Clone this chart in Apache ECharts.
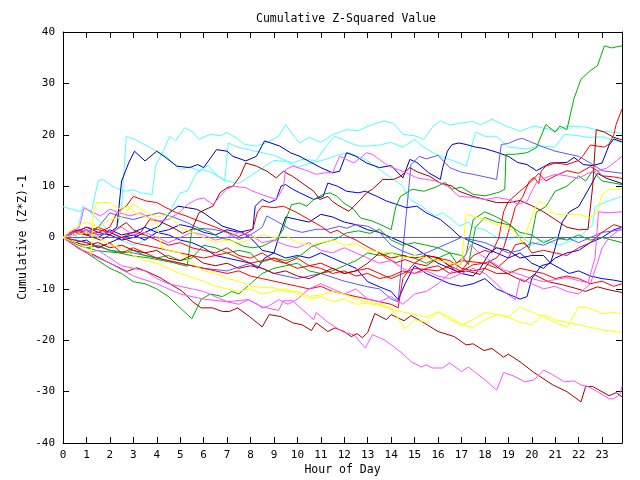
<!DOCTYPE html>
<html><head><meta charset="utf-8">
<script src="https://cdn.jsdelivr.net/npm/echarts@6/dist/echarts.min.js"></script>
<style>html,body{margin:0;padding:0;background:#fff}#c{width:640px;height:480px}</style>
</head><body><div id="c"></div>
<script>
// x tick labels (hour of day)
const hourTicks = [0,1,2,3,4,5,6,7,8,9,10,11,12,13,14,15,16,17,18,19,20,21,22,23];
const yTicks = [-40,-30,-20,-10,0,10,20,30,40];

// each series: [hour, cumulative value]
const cyanTop = [[0,6],[0.7,5.1],[1.0,5.7],[1.2,4.8],[1.5,11],[1.7,11.3],[2.1,10],[2.6,9],[3.0,9.3],[3.3,8.7],[3.8,8.4],[3.95,14],[4.3,17],[4.55,19.7],[4.8,18.8],[5.2,21.4],[5.55,20.5],[5.8,19.1],[6.3,20.1],[6.7,19.8],[7.0,20.4],[7.4,19.4],[7.75,18.1],[8.25,17.8],[8.7,18.5],[9.2,19.7],[9.5,22],[9.8,20],[10.1,18.4],[10.5,19.5],[11,18.5],[11.5,20],[12.1,21],[12.6,20.8],[13.2,22],[13.7,22.7],[14.1,22.2],[14.5,20.1],[15.0,19.8],[15.4,19.1],[15.8,21.7],[16.1,22.7],[16.5,21.9],[16.9,22.2],[17.5,22.6],[17.8,21.9],[18.3,23],[18.9,21.7],[19.5,20.7],[20.1,21.7],[21,20.8],[21.5,21.7],[22.3,21.5],[23,20.7],[23.85,20.3]];
const cyanA = [[0,0],[0.5,-0.5],[1,0.5],[1.5,0],[2,1],[2.3,2],[2.5,6],[2.7,19.7],[3.1,19],[3.6,17.8],[4.0,16.8],[4.4,15.8],[5,13.2],[5.4,13.8],[5.8,13],[6.2,14],[6.6,12],[6.9,11],[7.05,18.4],[7.5,17.5],[8,17],[8.5,16.5],[9,16],[9.5,15],[9.8,14.5],[10.2,15.2],[10.8,15],[11.2,17.6],[11.6,19.7],[12.2,18.5],[12.6,17.8],[13,17.8],[13.5,18],[14,18.5],[14.5,17.6],[15,19.1],[15.4,17.5],[15.8,16.5],[16.3,15.5],[16.9,14.5],[17.2,13.9],[17.6,20.5],[18,19.7],[18.5,19.7],[19,17.6],[19.8,17.2],[20.3,17.8],[21,17.6],[21.4,20.1],[22,19.8],[22.4,19.5],[23,19.6],[23.85,18.5]];
const cyanB = [[0,0],[0.5,-1],[0.85,6.1],[1.2,4.8],[1.6,3],[2,1],[2.5,-0.5],[3,-1.5],[3.5,-0.5],[3.9,1],[4.3,3],[5,8.7],[5.3,9],[5.7,12.6],[6,13.2],[6.4,12.5],[6.7,11.7],[7,11],[7.5,10.5],[8,12],[8.5,13.5],[9,15],[9.5,14.8],[10,13.7],[10.6,14.5],[11.2,15.2],[11.7,16],[12.2,16.5],[12.9,15.2],[13.7,12.6],[14.1,11.3],[14.5,10],[14.8,7.4],[15.3,6.1],[15.6,5],[15.9,4.2],[16.2,4.8],[16.6,3.5],[16.9,2.2],[17.3,3],[17.5,2],[18,1.5],[18.5,0],[19,-0.5],[19.5,0.5],[20,-1.5],[20.5,-0.5],[21.2,-1.5],[22,0],[22.6,2.5],[22.7,6],[23.2,7],[23.85,8]];
const navyTop = [[0,0],[0.5,1],[1,1.5],[1.5,0.5],[2,1],[2.3,2],[2.5,11],[2.8,14.5],[3.05,16.8],[3.5,14.9],[4,16.8],[4.4,15.5],[4.85,13.9],[5.4,13.6],[5.75,14.2],[6,13.6],[6.55,17.1],[7.0,16.8],[7.25,15.8],[7.8,14.9],[8.25,15.8],[8.6,18.8],[9.25,17.8],[9.7,16.5],[10.1,15.8],[10.5,14.8],[11,13.6],[11.5,12.6],[11.8,12.9],[12.1,16.5],[12.5,15.8],[12.95,14.5],[13.5,13.6],[14,14],[14.5,11.6],[14.8,15.2],[15.1,14.6],[15.6,12.6],[16.1,11.3],[16.2,13.6],[16.4,16.8],[16.6,18.1],[16.9,18.4],[17.2,18.1],[17.6,17.6],[18,17.3],[18.5,16.6],[19,15.8],[19.4,14.6],[19.8,14.2],[20.2,13],[20.8,14.5],[21.5,14.6],[21.8,15.6],[22.2,14.2],[22.6,14],[23,14.5],[23.3,18],[23.5,19.2],[23.85,18.6]];
const blueJump = [[0,0],[1,-1],[2,-2.5],[3,-3],[4,-4],[5,-5],[6,-6],[7,-6.5],[8,-5],[9,-7],[10,-8],[11,-7],[12,-8.5],[13,-9.6],[13.5,-10],[14,-12],[14.3,-12.5],[14.55,0],[14.85,14.2],[15.2,15.8],[15.5,15.3],[16,16],[16.5,13.6],[17,12.7],[17.5,12.3],[18,11.8],[18.5,11.3],[18.7,18.1],[19,18.3],[19.4,19.1],[19.6,19.3],[19.9,18.7],[20.5,17.6],[21,16.8],[21.6,16.2],[22,15.8],[22.5,14.5],[23,13],[23.85,12.5]];
const blueLow = [[0,0],[0.5,0.5],[1,1],[1.5,0],[2,1.5],[2.5,0.5],[3,1],[3.5,2],[4,1],[4.5,0.5],[5,-0.5],[5.5,-1],[6,-2],[6.5,-3.5],[7,-4],[7.5,-4.5],[8,-5],[8.3,-6],[8.6,-4],[9,-3],[9.5,-4],[10,-3.5],[10.5,-4],[11,-3],[11.5,-4],[12,-5],[12.5,-6],[13,-8.6],[13.5,-9.6],[14,-10.5],[14.3,-12.1],[14.6,-9],[15,-5.5],[15.5,-7],[16,-8],[16.5,-9],[17,-9.5],[17.5,-9],[18,-8],[18.5,-10],[19,-11],[19.5,-12],[19.8,-11.5],[20,-8],[20.4,-5.5],[20.8,-5],[21.2,-6],[21.6,-7],[22,-6.5],[22.5,-7.5],[23,-8],[23.5,-8.3],[23.85,-8.6]];
const blueMid = [[0,0],[0.5,-1],[1,-0.5],[1.5,-2],[2,-1],[2.5,0],[3,0.5],[3.5,-0.5],[4,1],[4.5,1.5],[5,2.5],[5.5,2],[6,1],[6.5,0.5],[7,1.5],[7.5,1],[8.1,1.6],[8.2,6.1],[8.5,7.4],[8.8,6.8],[9.1,7.4],[9.3,10],[9.5,10.3],[9.8,9.4],[10.1,8.7],[10.7,7.4],[11.1,8],[11.3,10.6],[11.7,10],[12.1,9],[12.6,8.7],[12.9,9],[13.4,8],[13.8,7.1],[14.2,6.5],[14.65,5.8],[15.1,6.1],[15.5,4.8],[16.1,3.5],[16.6,1.6],[16.9,0.3],[17.5,-1],[18,-2],[18.5,-3],[19,-4],[19.5,-3],[20,-5],[20.5,-6],[21,-4],[21.5,-3],[22,-2.5],[22.5,-1],[23,0],[23.5,1.5],[23.85,2]];
const navyMid = [[0,0],[0.5,1],[1,2],[1.5,1],[2,0.5],[2.5,-0.5],[3,0],[3.5,1],[4.1,2.2],[4.55,4.8],[4.9,6.1],[5.3,5.8],[5.7,5.5],[6.0,4.8],[6.4,3.5],[6.8,2.2],[7.25,1.6],[7.7,0.9],[8.1,-0.5],[8.5,-2.5],[9,-3],[9.2,0],[9.5,4],[10,3.5],[10.5,3],[11,4.5],[11.5,4],[12,3],[12.5,2.5],[13,1.5],[13.5,1],[14,0],[14.5,-1],[15,-2],[15.5,-3.5],[16,-5],[16.5,-6],[17,-7],[17.5,-7.5],[17.8,-6],[18.2,-3],[18.5,-2],[19,-2.5],[19.5,-4],[20,-3.5],[20.5,-3.5],[20.8,-5],[21,-2],[21.3,3],[21.6,5],[22,6],[22.5,10],[22.8,12.5],[23.2,11.5],[23.85,10.5]];
const lightBlue = [[0,0],[0.5,1.5],[1,1],[1.5,2],[2,4.8],[2.5,4],[3,3.5],[3.55,4.2],[4.1,4.8],[4.7,4],[5.3,2.9],[5.8,1.8],[6.4,1.6],[7,1],[7.5,-0.4],[8,0.5],[8.5,2],[8.7,4.2],[9.1,3.2],[9.7,1.6],[10.2,1],[10.8,1.6],[11.3,1.6],[11.8,2.2],[12.1,1.8],[12.5,2.5],[13,2.2],[13.5,1],[14,-1.5],[14.5,-2.7],[15,-3.5],[15.5,-3],[16,-2],[16.5,-1],[17,0],[17.5,-0.5],[18,-1],[18.5,-2],[19,-3],[19.5,-2.5],[20,-1],[20.5,-1.5],[21,-0.5],[21.5,0],[22,-1],[22.5,0],[23,1],[23.85,1.5]];
const zeroLine = [[0,0],[23.85,0]];
const greenBig = [[0,0],[0.7,-1.6],[1.5,-2.6],[2.4,-3],[3,-3.6],[3.7,-4],[4.7,-4.9],[5.3,-5.6],[5.5,1.6],[5.9,1.6],[6.3,1],[6.7,-0.1],[7.1,-0.4],[7.7,-1.7],[8.1,-2],[8.5,-1.7],[8.9,-0.8],[9.1,-0.4],[9.4,1.6],[9.55,4],[9.75,6.4],[10.1,6.7],[10.4,6.1],[10.7,7.4],[11.1,8.4],[11.4,8.7],[11.7,8],[11.95,6.8],[12.4,5.5],[12.7,3.8],[13.2,3.2],[13.7,2.2],[14.0,1.5],[14.2,6],[14.4,8],[14.9,9.4],[15.4,9],[15.9,9.8],[16.3,10.7],[16.6,9.4],[17,9.8],[17.5,8.4],[18,8.1],[18.6,8.8],[18.85,9.4],[18.9,16.2],[19.3,16.2],[19.8,16.5],[20.2,17.5],[20.6,22],[21.0,20.5],[21.2,21.7],[21.5,21],[21.8,27],[22.1,30.8],[22.5,32.5],[22.8,33.4],[23.1,37.3],[23.4,36.9],[23.85,37.3]];
const greenLow = [[0,0],[0.5,-1.5],[1,-3],[1.5,-4.5],[2,-6],[2.5,-7],[3,-8.6],[3.5,-9],[4,-10],[4.5,-11.5],[5,-13.7],[5.5,-15.8],[5.9,-12],[6.3,-11],[6.8,-11.5],[7.2,-10.5],[7.5,-11],[8,-9],[8.5,-7],[9,-6],[9.5,-5.5],[10,-5],[10.5,-6.5],[11,-7],[11.5,-6.5],[12,-5.5],[12.5,-4.5],[13,-3],[13.5,-3.5],[14,-3],[14.5,-3.5],[15,-4],[15.5,-5],[16,-4],[16.5,-3],[17,-3.5],[17.3,-5.3],[17.6,2],[18,3.9],[18.5,3],[19,2.5],[19.5,1],[20,0.5],[20.5,-1],[21,0],[21.5,-0.5],[22,0.5],[22.5,-0.5],[23,0],[23.85,-1]];
const greenMid = [[0,0],[0.5,-1],[1,-2],[1.5,-1.5],[2,-2.5],[2.5,-3],[3,-2.5],[3.5,-3.5],[4,-4],[4.5,-3.5],[5,-4.5],[5.5,-4],[6,-1.5],[6.5,-2],[7,-3],[7.5,-2.5],[8,-3],[8.4,-4.9],[9,-4],[9.5,-4.5],[10.1,-3.6],[10.6,-1.8],[11.1,-1],[11.6,-0.4],[12.1,0.9],[12.6,1.3],[13.1,0.8],[13.5,1.6],[14,-0.5],[14.5,-1.5],[15,-1],[15.5,-1.5],[16,-2],[16.5,-3],[16.8,-5],[17.2,-3.3],[17.5,3.5],[18,5],[18.5,4],[18.9,3],[19.2,2],[19.6,-1],[19.9,-2],[20.2,5],[20.6,6],[21,9],[21.5,10],[22,12],[22.3,11],[22.6,13],[23,11],[23.85,10.3]];
const redTop = [[0,0],[1,2],[2,1],[3,-1],[4,-2],[5,-3],[6,-4],[7,-3],[8,-5],[9,-4],[10,-6],[11,-5],[12,-7],[13,-6],[14,-8],[15,-6],[16,-6.5],[17,-4.5],[18,-5],[18.5,-4],[18.8,-2],[19,1],[19.3,5.9],[19.6,7.8],[19.9,11],[20.1,11.7],[20.3,10.5],[20.4,12.9],[20.6,13.9],[21,14.5],[21.5,14.2],[22,15],[22.2,16],[22.5,18],[22.8,17.8],[23.1,17.6],[23.3,18.2],[23.5,20],[23.6,22],[23.85,25]];
const redA = [[0,0],[0.5,1.5],[1,0.5],[1.5,1],[2,2],[2.3,4.8],[2.5,5.5],[2.7,6.1],[3,8],[3.55,7.1],[4,6.8],[4.4,5.8],[4.85,4.8],[5.25,4.2],[5.8,3.2],[6.4,2.2],[7.1,0.9],[7.5,0.2],[7.9,1],[8.1,1.6],[8.3,5],[8.5,6.1],[9,5.8],[9.4,6.1],[10,4.8],[10.5,3.5],[11,2.2],[11.4,0.9],[11.7,1.4],[12.1,0.3],[12.5,-0.5],[12.95,-1.7],[13.5,-3],[13.8,-4],[14.2,-4.9],[14.6,-4.3],[15,-5],[15.5,-3.5],[16,-4],[16.5,-4.5],[17,-6],[17.5,-6.5],[18,-6],[18.5,-7],[19,-7],[19.5,-6],[20,-6.5],[20.5,-7],[21,-8],[21.5,-7.5],[22,-8],[22.5,-9],[23,-8.5],[23.5,-9.5],[23.85,-9]];
const redB = [[0,0],[0.5,1],[1,0.5],[1.5,2],[2,1],[2.5,0],[3,1],[3.5,0.5],[4,-0.5],[4.5,-1.5],[5,-1],[5.5,-2],[6,-2.5],[6.5,-3],[7,-2],[7.5,-3.5],[8,-4],[8.5,-3],[9,-4.5],[9.5,-5],[10,-4],[10.5,-5.5],[11,-6],[11.5,-7],[12,-6.5],[12.5,-7.5],[13,-7],[13.5,-8],[14,-7.5],[14.5,-6.5],[15,-7],[15.5,-6],[16,-5.5],[16.5,-7],[17,-6.5],[17.5,-3.5],[18,-2.5],[18.3,-3],[18.6,0],[18.8,5],[19,7],[19.5,9],[20,11],[20.3,12.5],[20.6,11],[21,12],[21.5,13],[22,12.5],[22.5,13.8],[22.8,13],[23,12],[23.5,11.8],[23.85,11.5]];
const redC = [[0,0],[0.5,-0.5],[1,-1],[1.5,-2],[2,-1],[2.5,-3],[3,-2],[3.5,-3],[4,-4],[4.5,-4.5],[5,-5],[5.5,-5.5],[6,-6],[6.5,-6.5],[7,-7],[7.5,-6.5],[8,-7.5],[8.5,-8],[9,-8.5],[9.5,-9],[10,-9.5],[10.5,-10],[11,-9.5],[11.5,-10.5],[12,-11],[12.5,-11.5],[13,-12],[13.5,-12.5],[14,-13],[14.3,-13.7],[14.5,-8],[14.8,-6],[15,-5],[15.5,-5.5],[16,-4],[16.5,-5.5],[17,-6.6],[17.5,-5.3],[18,-5],[18.5,-6],[19,-4],[19.3,-1.4],[19.7,-1],[20,-3],[20.5,-2.5],[21,-3],[21.5,-3.5],[22,-2],[22.5,-1],[23,1],[23.5,2.5],[23.85,2]];
const darkRedBottom = [[0,0],[0.72,-2.3],[1.28,-3.3],[1.87,-4.7],[2.72,-6.6],[3.15,-5.9],[3.57,-6.6],[4.13,-7.8],[5.1,-10.5],[5.53,-12.5],[5.9,-13.7],[6.38,-13.7],[6.8,-14.4],[7.1,-14.4],[7.45,-13.7],[7.96,-15.4],[8.5,-17.4],[8.8,-15],[9.3,-15.4],[9.8,-16.6],[10.2,-17],[10.6,-18.1],[10.8,-16.6],[11.3,-18.3],[11.6,-17.6],[12.0,-18.3],[12.3,-19.3],[12.55,-18.7],[12.77,-19.5],[13.0,-18.5],[13.3,-14.8],[13.8,-16],[14.0,-15],[14.55,-16.2],[14.85,-15.2],[15.4,-16.6],[16.0,-18.3],[16.7,-19.3],[17.2,-20.9],[17.5,-20.7],[17.96,-22],[18.3,-21.6],[18.8,-23.3],[19.0,-22.7],[19.5,-24.2],[20.1,-26.3],[20.9,-28.7],[21.5,-30],[22.1,-32],[22.3,-29],[22.6,-29],[23.3,-30.8],[23.6,-30.2],[23.85,-31]];
const darkRedTop = [[0,0],[0.3,1],[0.7,1.5],[1,0.5],[1.6,-0.5],[2,0.5],[2.4,2],[2.7,2.9],[3,1.5],[3.3,0.9],[3.7,3.5],[4.1,3.2],[4.7,1.9],[5.1,0.8],[5.5,1.6],[5.8,4.8],[6.1,5.5],[6.4,6.1],[6.7,8.7],[7,9.7],[7.25,10],[7.55,11.9],[7.8,14.5],[8.25,13.9],[8.7,12.9],[9.1,11.6],[9.4,12.9],[9.8,11.9],[10.2,10.6],[10.7,9],[10.95,7.4],[11.3,8],[11.5,7],[11.8,6.1],[12.2,5.1],[12.7,7.4],[12.95,8.7],[13.2,9.4],[13.65,11.3],[14.1,11.3],[14.4,11.9],[14.8,13.6],[15.1,12.8],[15.65,11.9],[16.1,10.6],[16.6,10],[16.9,9],[17.5,8],[18,7.4],[18.5,6.8],[19,6.8],[19.5,7.2],[20,6.2],[20.5,5],[21,3.5],[21.5,2],[22,1.5],[22.4,1.6],[22.6,10],[22.75,21],[23.1,20.5],[23.5,19.5],[23.85,19]];
const darkRedMid = [[0,0],[0.5,-1],[1,-1.5],[1.5,-1],[2,-2],[2.5,-1.5],[3,-2.5],[3.5,-3],[4,-2.5],[4.5,-4],[5,-4.5],[5.5,-3.5],[6,-5],[6.5,-5.5],[7,-5],[7.5,-6],[8,-5.5],[8.5,-6],[9,-7],[9.5,-6.5],[10,-7.5],[10.5,-8],[11,-7],[11.5,-6],[12,-7],[12.5,-6.5],[13,-5],[13.5,-3],[14,-4],[14.5,-3.5],[15,-4],[15.5,-3.5],[16,-3.9],[16.4,-5.3],[16.8,-6.6],[17.3,-6.6],[17.8,-7.2],[18.2,-4.7],[18.8,-6.6],[19.3,-7.8],[19.7,-8.6],[20.1,-7.2],[20.7,-8.6],[21.3,-9.2],[21.8,-9.8],[22.3,-10.5],[22.8,-9.6],[23.3,-10.2],[23.85,-10.7]];
const magentaBottom = [[0,0],[1,-3],[2,-5],[3,-7.5],[4,-9],[5,-11],[6,-12],[7,-12.5],[7.9,-12.1],[8.5,-13.5],[9.2,-14.2],[9.4,-12.3],[9.8,-12.3],[10.2,-14],[10.7,-16],[10.8,-14.6],[11.3,-16.5],[11.6,-17.4],[12.0,-18.5],[12.4,-18.9],[12.9,-21.5],[13.2,-18.9],[13.7,-19.9],[14.1,-21.2],[14.55,-22.8],[14.85,-24.2],[15.3,-25.2],[15.5,-24.8],[15.75,-25.4],[16.2,-25.4],[16.5,-24.4],[17.0,-26.1],[17.3,-25.2],[17.6,-26.3],[18.0,-27.7],[18.5,-29.7],[18.8,-26.3],[19.2,-26.9],[19.7,-28.1],[20.1,-27.7],[20.5,-25.8],[20.85,-26.6],[21.4,-28.1],[21.8,-27.9],[22.1,-28.7],[22.4,-29],[22.8,-30],[23.3,-31.4],[23.5,-31.4],[23.75,-30.6],[23.85,-29]];
const magentaMid = [[0,0],[0.5,-1.5],[1,-3],[1.5,-2.5],[2,-4],[2.5,-5.5],[3,-6],[3.5,-6.5],[4,-8],[4.5,-9],[5,-9.5],[5.5,-10],[6,-10.5],[6.5,-11.5],[7,-12.5],[7.5,-13],[7.9,-12.1],[8.3,-13],[8.5,-13.7],[8.8,-13.3],[9.2,-12.1],[9.6,-13],[10,-12],[10.5,-10],[11,-9],[11.5,-10],[12,-11],[12.5,-10],[13,-12],[13.5,-12.5],[14,-11.5],[14.5,-13],[15,-11],[15.5,-10.5],[16,-9],[16.5,-7],[17,-5],[17.4,-1.4],[17.8,-3.3],[18.3,-4.7],[18.8,-6.3],[19.5,-7.2],[20,-8],[20.5,-8.6],[21,-8.2],[21.5,-7.8],[22,-8.4],[22.4,-8.8],[22.7,-4],[22.85,5],[23.3,4.8],[23.85,5]];
const magentaTop = [[0,0],[0.3,1],[0.7,2],[0.9,5.8],[1.3,4.8],[1.6,4.2],[2,5.5],[2.4,4.8],[2.85,4.2],[3.3,4.8],[3.7,3.8],[4.1,3.2],[4.5,3.5],[5,5],[5.3,6.4],[5.7,7.4],[6,7.7],[6.4,6.4],[6.7,8],[7,9.4],[7.25,10],[7.8,9.7],[8.1,9],[8.7,8],[9.1,7.4],[9.4,9.7],[9.5,13.2],[9.8,13.9],[10.3,13.2],[10.8,12.3],[11.2,12.6],[11.5,12.6],[11.8,15.8],[12.1,15.2],[12.4,14.5],[12.7,15.5],[12.95,16.5],[13.2,16.2],[13.5,15.2],[13.9,13.9],[14.3,13.2],[14.65,12.6],[15.1,11.6],[15.5,11.3],[15.9,11],[16.4,10],[16.9,8],[17.5,7.8],[18,7.4],[18.5,7.8],[19,7.4],[19.4,6.5],[19.8,7],[20,9],[20.2,10.7],[20.5,11.5],[21,12.3],[21.5,12],[22,11.5],[22.4,12.5],[22.8,13],[23.2,13.5],[23.5,14.5],[23.85,15.8]];
const magentaLate = [[0,0],[0.5,1],[1,1.5],[1.5,0.5],[2,1],[2.5,2],[3,0.5],[3.5,1],[4,0],[4.5,-1],[5,0],[5.5,1],[6,0.5],[6.5,-0.5],[7,0],[7.5,1],[8,0.5],[8.5,-1],[9,-0.5],[9.5,-1.5],[10,-2],[10.5,-1],[11,-2.5],[11.5,-3],[12,-2],[12.5,-3],[13,-4],[13.5,-5],[14,-4.5],[14.5,-6],[15,-7],[15.5,-6.5],[16,-7.5],[16.5,-8],[17,-7],[17.5,-6],[18,-7],[18.5,-9],[18.8,-10.5],[19.3,-12.1],[19.5,-8],[20,-9],[20.5,-10],[21,-9.5],[21.5,-10.5],[22,-11],[22.5,-9],[22.8,-5],[23,-2],[23.3,0],[23.6,1],[23.85,2]];
const yellowA = [[0,0],[0.5,-1],[1,-2],[1.2,-3.3],[1.3,5],[1.45,6.8],[2,6.8],[2.4,5.6],[2.8,6],[3.1,4.8],[3.6,3.9],[4.0,3],[4.2,-2],[4.5,-2.5],[5,-3],[5.5,-5],[6,-6.5],[6.5,-7],[7,-8],[7.5,-8.5],[8,-9.5],[8.5,-9.7],[9,-9.8],[9.5,-10.5],[10,-10.5],[10.5,-11.5],[11,-11.2],[11.5,-10.5],[12,-11],[12.5,-12],[13,-12.5],[13.5,-13],[14,-13.7],[14.6,-17.8],[15,-16],[15.5,-16.5],[16,-14.4],[16.5,-16],[17,-17],[17.5,-16],[18,-14.6],[18.5,-15],[19,-15.4],[19.5,-13.5],[20,-14.5],[20.5,-15.5],[21,-16.5],[21.5,-17.5],[22,-13.5],[22.5,-13.8],[23,-14.8],[23.5,-14.6],[23.85,-14.8]];
const yellowB = [[0,0],[0.5,0.5],[1,1],[1.5,0],[2,-1.5],[2.5,-2],[3,-3.5],[3.5,-4.5],[4,-5],[4.5,-6],[5,-7],[5.5,-7.8],[6,-8.5],[6.5,-9.5],[7,-10],[7.5,-10.5],[8,-10],[8.5,-11],[9,-10.5],[9.5,-10],[10,-11],[10.5,-12],[11,-11.5],[11.5,-12.5],[12,-12],[12.5,-13],[13,-12.8],[13.5,-13.2],[14,-14],[14.5,-14.5],[15,-15],[15.5,-15.5],[16,-14.5],[16.5,-15.5],[17,-17],[17.5,-17.5],[18,-16],[18.5,-15],[19,-15.5],[19.5,-16.5],[20,-17],[20.5,-15],[21,-16],[21.5,-16.5],[22,-17],[22.5,-17.5],[23,-18],[23.85,-18.5]];
const yellowC = [[0,0],[0.5,2],[1,3],[1.5,2],[2,3.5],[2.5,4],[3,6.5],[3.5,5],[4,4],[4.5,4.5],[5,2],[5.5,1],[6,0],[6.5,-1],[7,-0.5],[7.5,-1],[8,-0.3],[8.5,0.5],[9,0],[9.5,0.3],[10,-1],[10.5,-1.5],[11,-1],[11.5,-0.5],[12,-1.5],[12.5,-1.2],[13,-2.5],[13.5,-2.8],[14,-3],[14.5,-4],[15,-3.5],[15.5,-4],[16,-4.5],[16.5,-5],[17,-5.3],[17.2,4.5],[17.6,4],[18,3.5],[18.5,2.5],[19,2],[19.3,1],[19.6,-1],[20.2,6.4],[20.4,7],[21,4.5],[21.5,4.5],[22,4.5],[22.5,3.9],[22.8,5],[23,8.4],[23.3,9.4],[23.85,9.4]];

const RED='#ff0000', DRED='#a80000', GREEN='#00b000', BLUE='#0000ff', NAVY='#0000a8', LBLUE='#5858ff', MAG='#ff50ff', CYAN='#50ffff', YEL='#ffff00';
const lines = [
  [cyanTop,CYAN],[cyanA,CYAN],[cyanB,CYAN],[navyTop,NAVY],[blueJump,LBLUE],[blueLow,BLUE],[blueMid,BLUE],[navyMid,NAVY],[lightBlue,LBLUE],[zeroLine,LBLUE],
  [greenBig,GREEN],[greenLow,GREEN],[greenMid,GREEN],[redTop,RED],[redA,RED],[redB,RED],[redC,RED],[darkRedBottom,DRED],[darkRedTop,DRED],[darkRedMid,DRED],
  [magentaBottom,MAG],[magentaMid,MAG],[magentaTop,MAG],[magentaLate,MAG],[yellowA,YEL],[yellowB,YEL],[yellowC,YEL]
];
const XMAX = 23.85;
const FONT = '"DejaVu Sans Mono", monospace';
const chart = echarts.init(document.getElementById('c'), null, {renderer:'canvas'});
const baseX = {type:'value', min:0, max:XMAX, interval:1,
  axisLine:{show:true, onZero:false, lineStyle:{color:'#000', width:1}},
  axisTick:{show:true, inside:true, length:6, lineStyle:{color:'#000', width:1}},
  splitLine:{show:false}};
const baseY = {type:'value', min:-40, max:40, interval:10,
  axisLine:{show:true, onZero:false, lineStyle:{color:'#000', width:1}},
  axisTick:{show:true, inside:true, length:6, lineStyle:{color:'#000', width:1}},
  splitLine:{show:false}};
chart.setOption({
  animation:false,
  backgroundColor:'#fff',
  title:{text:'Cumulative Z-Squared Value', left:251, top:8,
    textStyle:{fontFamily:FONT, fontSize:11.5, fontWeight:'normal', color:'#000'}},
  grid:{left:63, right:18, top:32, bottom:37, containLabel:false, outerBoundsMode:'none'},
  xAxis:[
    Object.assign({}, baseX, {position:'bottom', name:'Hour of Day', nameLocation:'middle', nameGap:21, nameMoveOverlap:false,
      nameTextStyle:{fontFamily:FONT, fontSize:11.5, color:'#000'},
      axisLabel:{show:true, margin:7, fontFamily:FONT, fontSize:11, color:'#000',
        formatter:v => hourTicks.includes(v) ? String(v) : ''}}),
    Object.assign({}, baseX, {position:'top', axisLabel:{show:false}})
  ],
  yAxis:[
    Object.assign({}, baseY, {position:'left', name:'Cumulative (Z*Z)-1', nameLocation:'middle', nameGap:34, nameRotate:90, nameMoveOverlap:false,
      nameTextStyle:{fontFamily:FONT, fontSize:11.5, color:'#000'},
      axisLabel:{show:true, margin:8, fontFamily:FONT, fontSize:11, color:'#000',
        formatter:v => yTicks.includes(v) ? String(v) : ''}}),
    Object.assign({}, baseY, {position:'right', axisLabel:{show:false}})
  ],
  series: lines.map(([d,c], i) => ({type:'line', name:'s'+i, data:d, xAxisIndex:0, yAxisIndex:0,
    showSymbol:false, symbol:'none', smooth:false, silent:true,
    lineStyle:{color:c, width:1}, itemStyle:{color:c}}))
});
</script></body></html>
